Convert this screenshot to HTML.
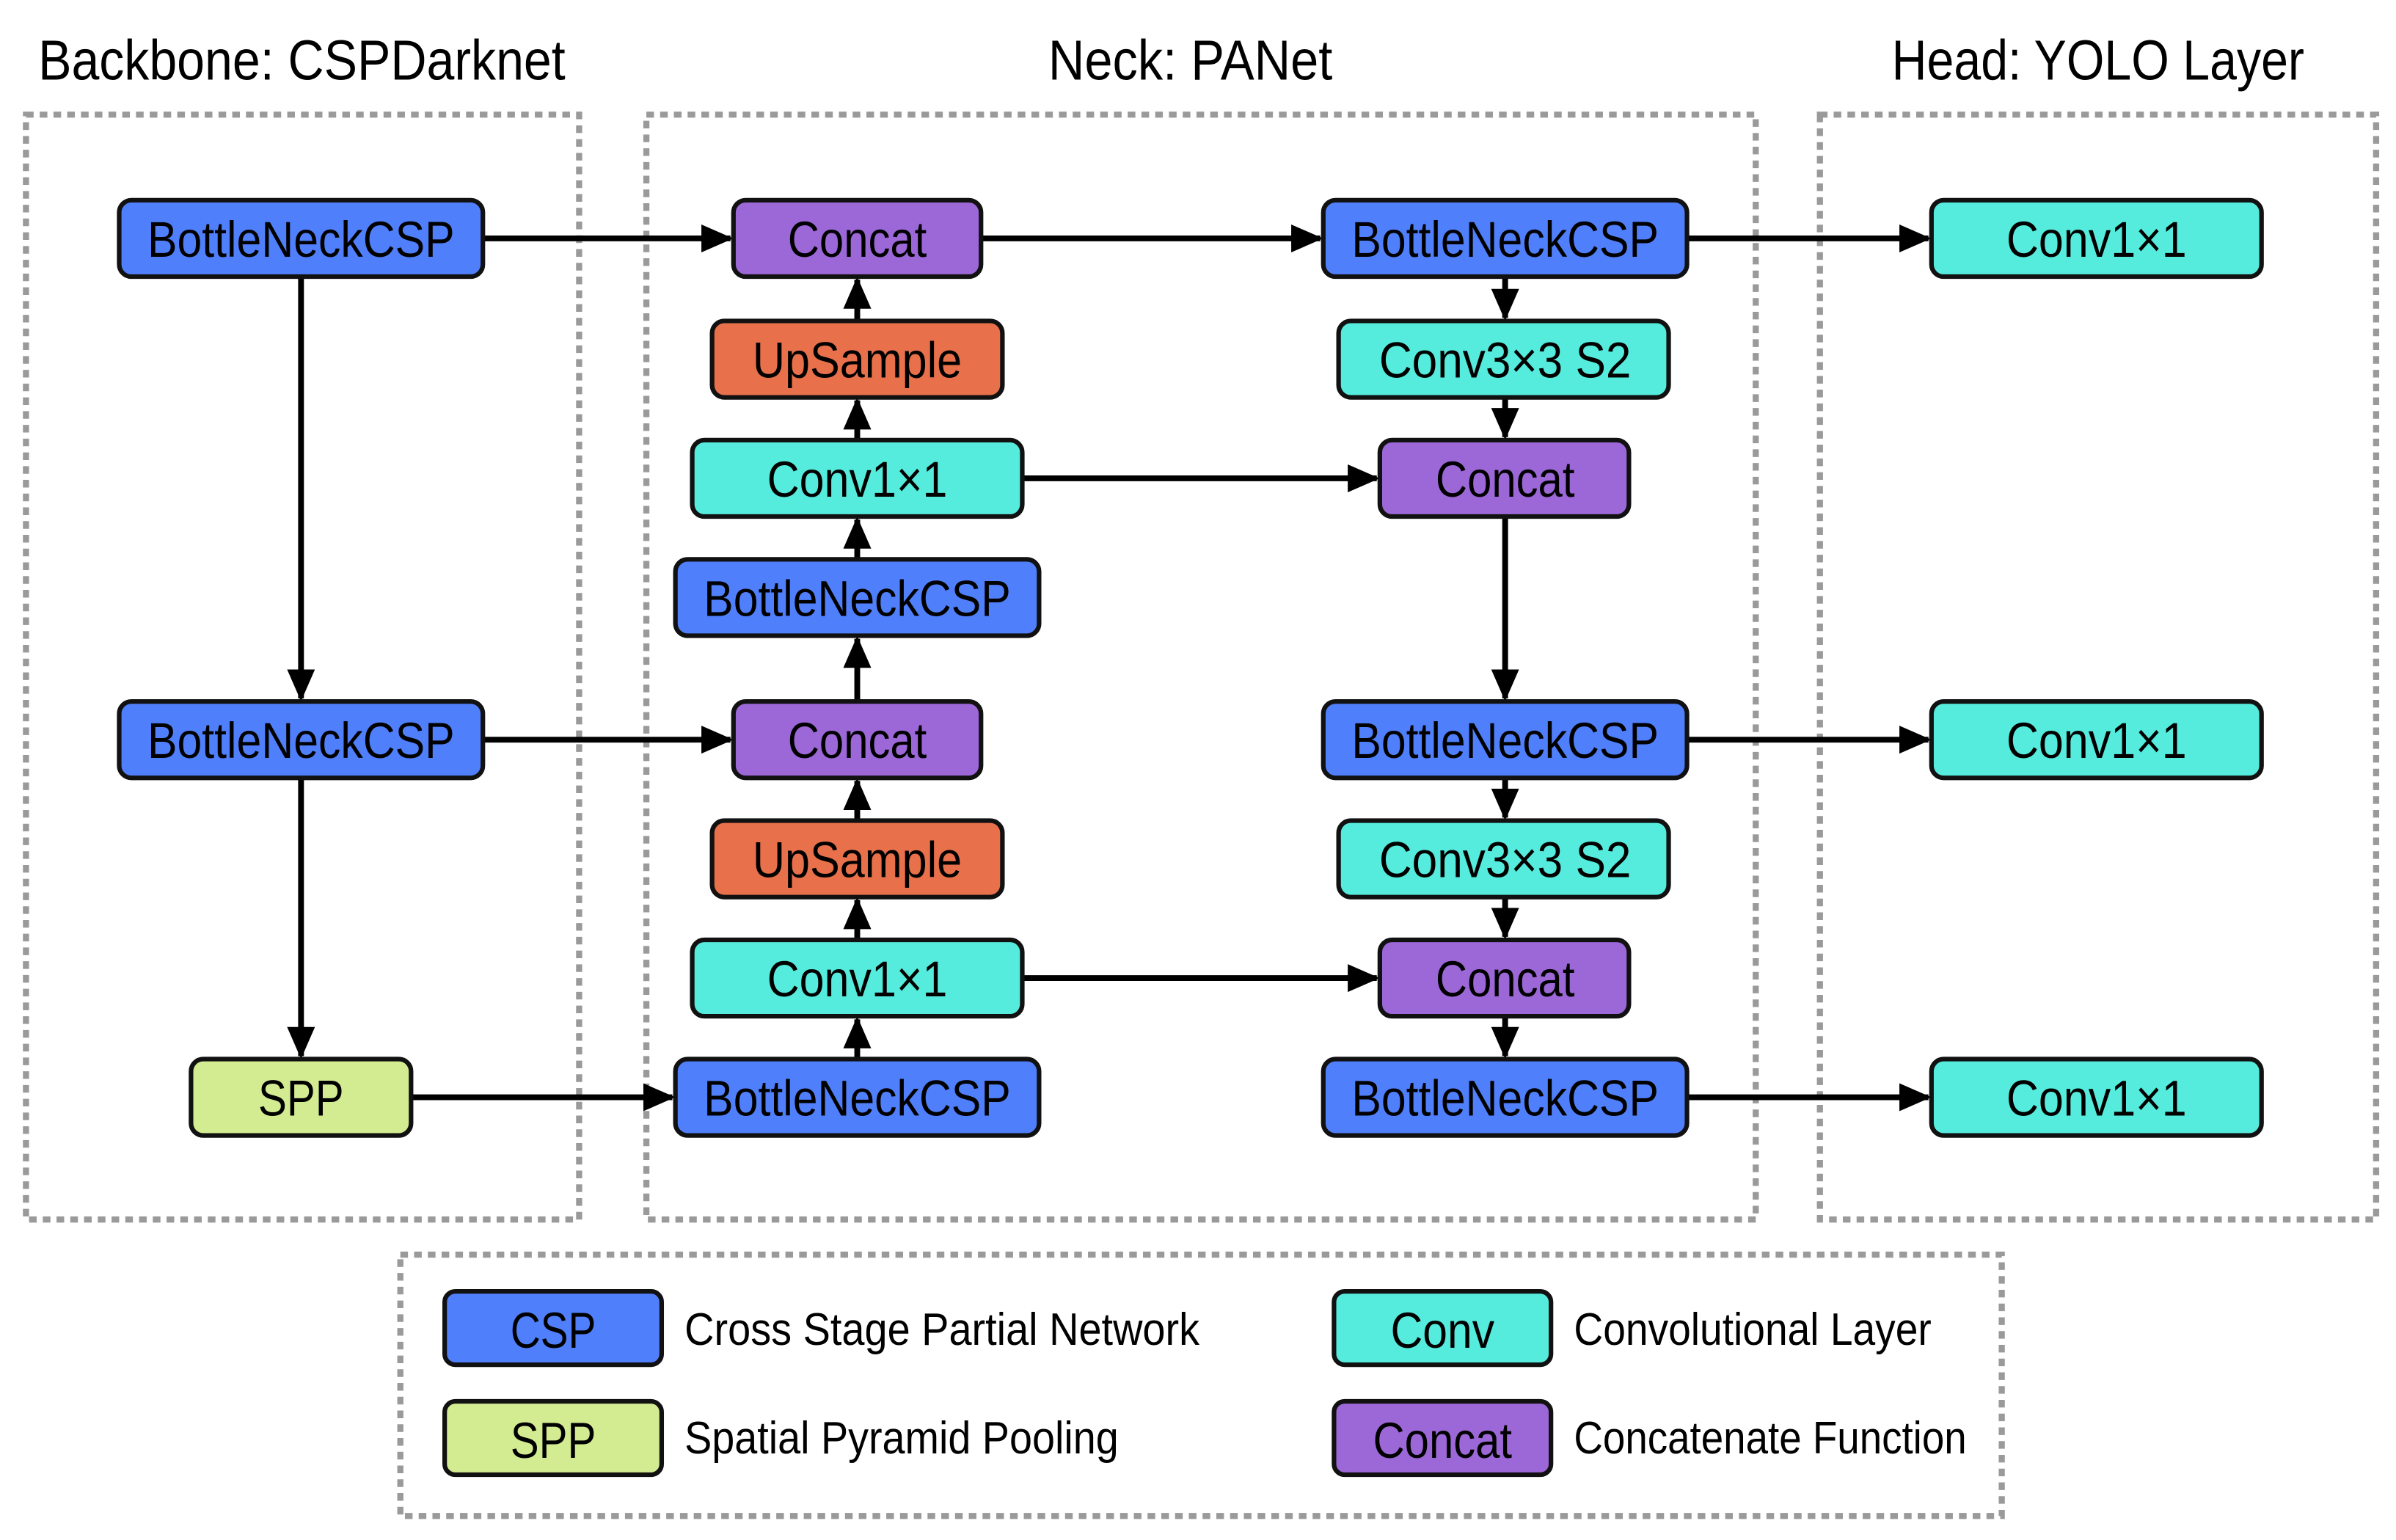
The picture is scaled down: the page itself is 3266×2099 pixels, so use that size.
<!DOCTYPE html>
<html><head><meta charset="utf-8"><style>
html,body{margin:0;padding:0;background:#fff;}
svg{display:block;}
text{font-family:"Liberation Sans",sans-serif;fill:#000;}
</style></head><body>
<svg width="3266" height="2099" viewBox="0 0 1568 1007.7" xmlns="http://www.w3.org/2000/svg">
<defs>
<marker id="a" markerWidth="6" markerHeight="6" refX="5" refY="3" orient="auto" markerUnits="strokeWidth">
<path d="M0,0.6 L5.5,3 L0,5.4 z" fill="#000"/>
</marker>
</defs>
<g font-size="37">
<text x="25" y="52" textLength="345" lengthAdjust="spacingAndGlyphs">Backbone: CSPDarknet</text>
<text x="686" y="52" textLength="186" lengthAdjust="spacingAndGlyphs">Neck: PANet</text>
<text x="1238" y="52" textLength="270" lengthAdjust="spacingAndGlyphs">Head: YOLO Layer</text>
</g>
<g fill="none" stroke="#9a9a9a" stroke-width="4" stroke-dasharray="5,4">
<rect x="17" y="75" width="362" height="723"/>
<rect x="423" y="75" width="726" height="723"/>
<rect x="1191" y="75" width="364" height="723"/>
<rect x="262" y="821" width="1048" height="171"/>
</g>
<g stroke="#000" stroke-width="3.8" fill="none" marker-end="url(#a)">
<line x1="316" y1="156" x2="478" y2="156"/>
<line x1="642" y1="156" x2="864" y2="156"/>
<line x1="1104" y1="156" x2="1262" y2="156"/>
<line x1="197" y1="181" x2="197" y2="457"/>
<line x1="197" y1="509" x2="197" y2="691"/>
<line x1="316" y1="484" x2="478" y2="484"/>
<line x1="269" y1="718" x2="440" y2="718"/>
<line x1="561" y1="693" x2="561" y2="667"/>
<line x1="561" y1="615" x2="561" y2="589"/>
<line x1="561" y1="537" x2="561" y2="511"/>
<line x1="561" y1="459" x2="561" y2="418"/>
<line x1="561" y1="366" x2="561" y2="340"/>
<line x1="561" y1="288" x2="561" y2="262"/>
<line x1="561" y1="210" x2="561" y2="183"/>
<line x1="669" y1="313" x2="901" y2="313"/>
<line x1="669" y1="640" x2="901" y2="640"/>
<line x1="985" y1="181" x2="985" y2="208"/>
<line x1="985" y1="260" x2="985" y2="286"/>
<line x1="985" y1="338" x2="985" y2="457"/>
<line x1="985" y1="509" x2="985" y2="535"/>
<line x1="985" y1="587" x2="985" y2="613"/>
<line x1="985" y1="665" x2="985" y2="691"/>
<line x1="1104" y1="484" x2="1262" y2="484"/>
<line x1="1104" y1="718" x2="1262" y2="718"/>
</g>
<g stroke="#111" stroke-width="3">
<rect x="78" y="131" width="238" height="50" rx="8" fill="#507ffb"/>
<rect x="78" y="459" width="238" height="50" rx="8" fill="#507ffb"/>
<rect x="125" y="693" width="144" height="50" rx="8" fill="#d3eb91"/>
<rect x="480" y="131" width="162" height="50" rx="8" fill="#9c67d7"/>
<rect x="466" y="210" width="190" height="50" rx="8" fill="#e8704a"/>
<rect x="453" y="288" width="216" height="50" rx="8" fill="#55ecdd"/>
<rect x="442" y="366" width="238" height="50" rx="8" fill="#507ffb"/>
<rect x="480" y="459" width="162" height="50" rx="8" fill="#9c67d7"/>
<rect x="466" y="537" width="190" height="50" rx="8" fill="#e8704a"/>
<rect x="453" y="615" width="216" height="50" rx="8" fill="#55ecdd"/>
<rect x="442" y="693" width="238" height="50" rx="8" fill="#507ffb"/>
<rect x="866" y="131" width="238" height="50" rx="8" fill="#507ffb"/>
<rect x="876" y="210" width="216" height="50" rx="8" fill="#55ecdd"/>
<rect x="903" y="288" width="163" height="50" rx="8" fill="#9c67d7"/>
<rect x="866" y="459" width="238" height="50" rx="8" fill="#507ffb"/>
<rect x="876" y="537" width="216" height="50" rx="8" fill="#55ecdd"/>
<rect x="903" y="615" width="163" height="50" rx="8" fill="#9c67d7"/>
<rect x="866" y="693" width="238" height="50" rx="8" fill="#507ffb"/>
<rect x="1264" y="131" width="216" height="50" rx="8" fill="#55ecdd"/>
<rect x="1264" y="459" width="216" height="50" rx="8" fill="#55ecdd"/>
<rect x="1264" y="693" width="216" height="50" rx="8" fill="#55ecdd"/>
<rect x="291" y="845" width="142" height="48" rx="7" fill="#507ffb"/>
<rect x="291" y="917" width="142" height="48" rx="7" fill="#d3eb91"/>
<rect x="873" y="845" width="142" height="48" rx="7" fill="#55ecdd"/>
<rect x="873" y="917" width="142" height="48" rx="7" fill="#9c67d7"/>
</g>
<g font-size="33" text-anchor="middle">
<text x="197" y="168" textLength="201" lengthAdjust="spacingAndGlyphs">BottleNeckCSP</text>
<text x="197" y="496" textLength="201" lengthAdjust="spacingAndGlyphs">BottleNeckCSP</text>
<text x="197" y="730" textLength="56" lengthAdjust="spacingAndGlyphs">SPP</text>
<text x="561" y="168" textLength="91" lengthAdjust="spacingAndGlyphs">Concat</text>
<text x="561" y="247" textLength="137" lengthAdjust="spacingAndGlyphs">UpSample</text>
<text x="561" y="325" textLength="118" lengthAdjust="spacingAndGlyphs">Conv1×1</text>
<text x="561" y="403" textLength="201" lengthAdjust="spacingAndGlyphs">BottleNeckCSP</text>
<text x="561" y="496" textLength="91" lengthAdjust="spacingAndGlyphs">Concat</text>
<text x="561" y="574" textLength="137" lengthAdjust="spacingAndGlyphs">UpSample</text>
<text x="561" y="652" textLength="118" lengthAdjust="spacingAndGlyphs">Conv1×1</text>
<text x="561" y="730" textLength="201" lengthAdjust="spacingAndGlyphs">BottleNeckCSP</text>
<text x="985" y="168" textLength="201" lengthAdjust="spacingAndGlyphs">BottleNeckCSP</text>
<text x="985" y="247" textLength="165" lengthAdjust="spacingAndGlyphs">Conv3×3 S2</text>
<text x="985" y="325" textLength="91" lengthAdjust="spacingAndGlyphs">Concat</text>
<text x="985" y="496" textLength="201" lengthAdjust="spacingAndGlyphs">BottleNeckCSP</text>
<text x="985" y="574" textLength="165" lengthAdjust="spacingAndGlyphs">Conv3×3 S2</text>
<text x="985" y="652" textLength="91" lengthAdjust="spacingAndGlyphs">Concat</text>
<text x="985" y="730" textLength="201" lengthAdjust="spacingAndGlyphs">BottleNeckCSP</text>
<text x="1372" y="168" textLength="118" lengthAdjust="spacingAndGlyphs">Conv1×1</text>
<text x="1372" y="496" textLength="118" lengthAdjust="spacingAndGlyphs">Conv1×1</text>
<text x="1372" y="730" textLength="118" lengthAdjust="spacingAndGlyphs">Conv1×1</text>
<text x="362" y="882" textLength="56" lengthAdjust="spacingAndGlyphs">CSP</text>
<text x="362" y="954" textLength="56" lengthAdjust="spacingAndGlyphs">SPP</text>
<text x="944" y="882" textLength="68" lengthAdjust="spacingAndGlyphs">Conv</text>
<text x="944" y="954" textLength="91" lengthAdjust="spacingAndGlyphs">Concat</text>
</g>
<g font-size="30">
<text x="448" y="880" textLength="337" lengthAdjust="spacingAndGlyphs">Cross Stage Partial Network</text>
<text x="448" y="951" textLength="284" lengthAdjust="spacingAndGlyphs">Spatial Pyramid Pooling</text>
<text x="1030" y="880" textLength="234" lengthAdjust="spacingAndGlyphs">Convolutional Layer</text>
<text x="1030" y="951" textLength="257" lengthAdjust="spacingAndGlyphs">Concatenate Function</text>
</g>
</svg>
</body></html>
